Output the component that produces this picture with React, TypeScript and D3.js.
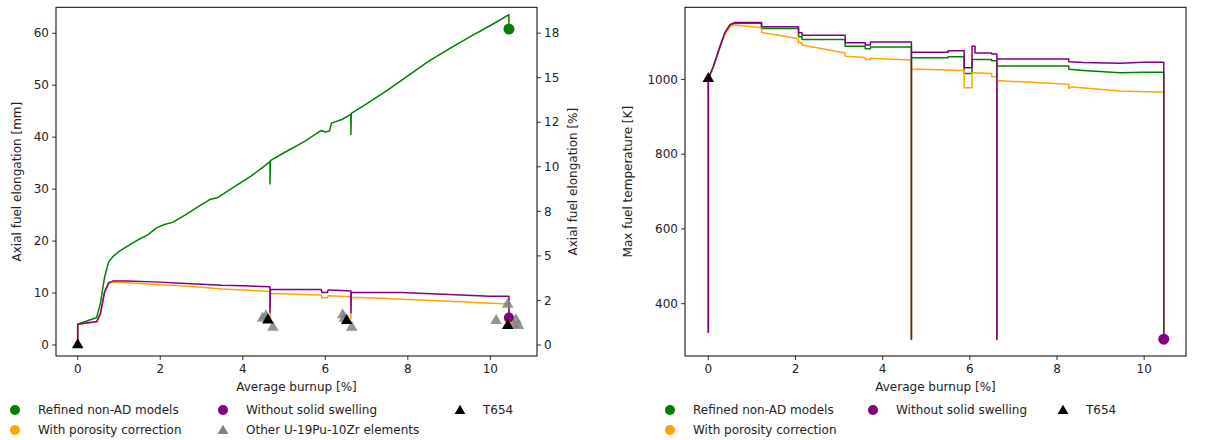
import React from "react";
import * as d3 from "d3";

type P = [number, number];

// ---------- Left panel data (burnup %, elongation mm) ----------
const leftGreen: P[] = [
  [0, 0], [0, 4.0], [0.46, 5.3], [0.55, 8], [0.65, 13], [0.75, 16], [0.85, 17], [1.0, 18],
  [1.2, 19], [1.45, 20.2], [1.7, 21.2], [1.9, 22.5], [2.1, 23.2], [2.3, 23.6], [2.6, 25],
  [3.0, 27], [3.2, 28], [3.4, 28.4], [3.8, 30.5], [4.2, 32.5], [4.5, 34.3], [4.66, 35.3],
  [4.66, 31], [4.67, 35.5], [5.0, 37], [5.5, 39.2], [5.9, 41.3], [6.0, 41.0], [6.1, 41.2],
  [6.15, 42.7], [6.4, 43.4], [6.62, 44.4], [6.62, 40.5], [6.63, 44.6], [7.0, 46.4],
  [7.5, 49], [8.0, 51.8], [8.5, 54.6], [9.0, 57], [9.5, 59.3], [10.0, 61.5], [10.45, 63.6],
  [10.45, 60.8],
];
const leftOrange: P[] = [
  [0, 0], [0, 4.0], [0.46, 4.4], [0.55, 6], [0.65, 10], [0.75, 11.7], [0.85, 12.1], [1.2, 12.0],
  [2.0, 11.6], [2.5, 11.4], [3.0, 11.1], [3.5, 10.8], [4.0, 10.6], [4.66, 10.3], [4.66, 5.0],
  [4.67, 9.9], [5.5, 9.7], [5.9, 9.6], [5.92, 9.1], [6.05, 9.1], [6.07, 9.5], [6.62, 9.3],
  [6.62, 5.0], [6.63, 9.2], [7.4, 9.0], [7.85, 8.8], [9.0, 8.4], [10.45, 7.9], [10.45, 5.0],
];
const leftPurple: P[] = [
  [0, 0], [0, 4.0], [0.46, 4.5], [0.55, 6], [0.65, 10.2], [0.75, 12], [0.85, 12.3], [1.2, 12.3],
  [2.0, 12.1], [2.5, 11.9], [3.0, 11.7], [3.5, 11.5], [4.0, 11.4], [4.66, 11.2], [4.66, 6.3],
  [4.67, 10.7], [5.9, 10.7], [5.92, 10.1], [6.05, 10.1], [6.07, 10.6], [6.1, 10.6], [6.62, 10.4],
  [6.62, 6.2], [6.63, 10.1], [7.85, 10.1], [9.0, 9.7], [10.0, 9.4], [10.45, 9.4], [10.45, 5.3],
];
const leftGreenEnd: P = [10.45, 60.8];
const leftOrangeEnd: P = [10.45, 5.0];
const leftPurpleEnd: P = [10.45, 5.3];
const otherElements: P[] = [
  [4.48, 5.1], [4.56, 5.6], [4.73, 3.4], [6.42, 5.8], [6.46, 5.1], [6.64, 3.4],
  [10.14, 4.7], [10.42, 7.8], [10.62, 4.8], [10.68, 3.7], [10.55, 3.9],
];
const t654Left: P[] = [[0, 0], [4.61, 4.8], [6.52, 4.7], [10.42, 3.7]];

// ---------- Right panel data (burnup %, max fuel temperature K) ----------
const rightGreen: P[] = [
  [0, 322], [0, 1002], [0.12, 1036], [0.27, 1089], [0.38, 1124], [0.5, 1146], [0.6, 1150],
  [1.22, 1150], [1.22, 1136], [2.07, 1136], [2.07, 1114], [2.15, 1114], [2.15, 1107],
  [3.14, 1107], [3.14, 1089], [3.6, 1089], [3.6, 1082], [3.72, 1082], [3.72, 1087],
  [4.66, 1087], [4.66, 305], [4.66, 1058], [5.5, 1058], [5.5, 1061], [5.87, 1061],
  [5.87, 1016], [6.05, 1016], [6.05, 1053], [6.5, 1053], [6.5, 1050], [6.62, 1050],
  [6.62, 305], [6.62, 1036], [8.27, 1036], [8.27, 1027], [8.6, 1024], [9.45, 1018],
  [10.0, 1019], [10.45, 1019], [10.45, 305],
];
const rightOrange: P[] = [
  [0, 322], [0, 1002], [0.12, 1035], [0.27, 1086], [0.38, 1120], [0.5, 1140], [0.6, 1146],
  [1.22, 1138], [1.22, 1126], [2.07, 1109], [2.07, 1098], [2.15, 1098], [2.15, 1092],
  [3.14, 1071], [3.14, 1062], [3.6, 1059], [3.6, 1053], [3.72, 1053], [3.72, 1057],
  [4.66, 1052], [4.66, 305], [4.66, 1028], [5.87, 1024], [5.87, 978], [6.05, 978],
  [6.05, 1018], [6.5, 1016], [6.5, 1007], [6.62, 1007], [6.62, 305], [6.62, 997],
  [8.27, 987], [8.27, 976], [8.35, 980], [9.45, 969], [10.45, 966], [10.45, 305],
];
const rightPurple: P[] = [
  [0, 322], [0, 1002], [0.12, 1036], [0.27, 1089], [0.38, 1125], [0.5, 1147], [0.6, 1152],
  [1.22, 1152], [1.22, 1141], [2.07, 1141], [2.07, 1125], [2.15, 1125], [2.15, 1118],
  [3.14, 1118], [3.14, 1098], [3.6, 1098], [3.6, 1092], [3.72, 1092], [3.72, 1100],
  [4.66, 1100], [4.66, 305], [4.66, 1073], [5.5, 1073], [5.5, 1077], [5.87, 1077],
  [5.87, 1031], [6.05, 1031], [6.05, 1089], [6.12, 1089], [6.12, 1071], [6.5, 1071],
  [6.5, 1068], [6.62, 1068], [6.62, 305], [6.62, 1055], [8.27, 1055], [8.27, 1047],
  [8.6, 1045], [9.45, 1043], [9.98, 1046], [10.45, 1046], [10.45, 305],
];
const rightPurpleEnd: P = [10.45, 305];
const t654Right: P[] = [[0, 1002]];

// ---------- Ticks ----------
const xTicks = [0, 2, 4, 6, 8, 10];
const leftYTicks = [0, 10, 20, 30, 40, 50, 60];
const pctTicks = [0, 2.5, 5, 7.5, 10, 12.5, 15, 17.5];
const pctTickLabels = ["0", "2", "5", "8", "10", "12", "15", "18"];
const rightYTicks = [400, 600, 800, 1000];

const GREEN = "#008000";
const ORANGE = "#FFA500";
const PURPLE = "#800080";
const GRAY = "#808080";
const FONT = "'DejaVu Sans', sans-serif";
const FS = 12;

const TOP = 7.3;
const BOTTOM = 356;
const MM_PER_PCT = 3.43;

const lx = d3.scaleLinear().domain([-0.526, 11.13]).range([56, 537]);
const ly = d3.scaleLinear().domain([-2.12, 65.0]).range([BOTTOM, TOP]);
const ly2 = d3.scaleLinear().domain([-2.12 / MM_PER_PCT, 65.0 / MM_PER_PCT]).range([BOTTOM, TOP]);
const rx = d3.scaleLinear().domain([-0.535, 10.96]).range([685, 1186]);
const ry = d3.scaleLinear().domain([260, 1193]).range([BOTTOM, TOP]);

const tri = d3.symbol().type(d3.symbolTriangle).size(58)()!;
const triLegend = d3.symbol().type(d3.symbolTriangle).size(50)()!;

function LinePath({ data, x, y, color }: { data: P[]; x: any; y: any; color: string }) {
  const gen = d3.line<P>().x((d) => x(d[0])).y((d) => y(d[1]));
  return <path d={gen(data) || ""} fill="none" stroke={color} strokeWidth={1.5} strokeLinejoin="round" />;
}

function XAxis({ x }: { x: any }) {
  return (
    <g>
      {xTicks.map((t) => (
        <g key={t} transform={`translate(${x(t)},${BOTTOM})`}>
          <line y2={4} stroke="#000" strokeWidth={0.8} />
          <text y={8} dy="0.71em" textAnchor="middle" fontSize={FS} fontFamily={FONT} fill="#222">{t}</text>
        </g>
      ))}
      <text x={(x.range()[0] + x.range()[1]) / 2} y={391} textAnchor="middle" fontSize={FS} fontFamily={FONT} fill="#222">
        Average burnup [%]
      </text>
    </g>
  );
}

function YAxisLeft({ y, ticks, labels, x0 }: { y: any; ticks: number[]; labels?: string[]; x0: number }) {
  return (
    <g>
      {ticks.map((t, i) => (
        <g key={t} transform={`translate(${x0},${y(t)})`}>
          <line x2={-4} stroke="#000" strokeWidth={0.8} />
          <text x={-7} dy="0.35em" textAnchor="end" fontSize={FS} fontFamily={FONT} fill="#222">
            {labels ? labels[i] : t}
          </text>
        </g>
      ))}
    </g>
  );
}

function Legend({ x0, x1, x2, rows }: any) {
  return null;
}

function Circle({ p, x, y, color, r = 5.5 }: { p: P; x: any; y: any; color: string; r?: number }) {
  return <circle cx={x(p[0])} cy={y(p[1])} r={r} fill={color} />;
}

function Tri({ p, x, y, color, opacity = 1 }: { p: P; x: any; y: any; color: string; opacity?: number }) {
  return <path d={tri} transform={`translate(${x(p[0])},${y(p[1])})`} fill={color} fillOpacity={opacity} />;
}

function LegendItem({ x, y, kind, color, label }: { x: number; y: number; kind: string; color: string; label: string }) {
  return (
    <g>
      {kind === "circle" ? (
        <circle cx={x} cy={y} r={5} fill={color} />
      ) : (
        <path d={triLegend} transform={`translate(${x},${y + 1})`} fill={color} />
      )}
      <text x={x + 23} y={y} dy="0.35em" fontSize={FS} fontFamily={FONT} fill="#222">{label}</text>
    </g>
  );
}

export default function App() {
  const midY = (TOP + BOTTOM) / 2;
  return (
    <div>
      <style>{"body{margin:0;background:#fff}"}</style>
      <svg width={1208} height={440} style={{ display: "block" }}>
        <rect width={1208} height={440} fill="#fff" />

        {/* ---------------- Left panel ---------------- */}
        <g>
          <LinePath data={leftGreen} x={lx} y={ly} color={GREEN} />
          <LinePath data={leftOrange} x={lx} y={ly} color={ORANGE} />
          <LinePath data={leftPurple} x={lx} y={ly} color={PURPLE} />
          {otherElements.map((p, i) => (
            <Tri key={"o" + i} p={p} x={lx} y={ly} color={GRAY} opacity={0.85} />
          ))}
          <Circle p={leftOrangeEnd} x={lx} y={ly} color={ORANGE} r={5} />
          <Circle p={leftPurpleEnd} x={lx} y={ly} color={PURPLE} r={5} />
          {t654Left.map((p, i) => (
            <Tri key={"t" + i} p={p} x={lx} y={ly} color="#000" />
          ))}
          <Circle p={leftGreenEnd} x={lx} y={ly} color={GREEN} r={5.5} />
          <rect x={56} y={TOP} width={537 - 56} height={BOTTOM - TOP} fill="none" stroke="#000" strokeWidth={1} />
          <XAxis x={lx} />
          <YAxisLeft y={ly} ticks={leftYTicks} x0={56} />
          {pctTicks.map((t, i) => (
            <g key={"p" + t} transform={`translate(537,${ly2(t)})`}>
              <line x2={4} stroke="#000" strokeWidth={0.8} />
              <text x={7} dy="0.35em" textAnchor="start" fontSize={FS} fontFamily={FONT} fill="#222">
                {pctTickLabels[i]}
              </text>
            </g>
          ))}
          <text transform={`translate(21,${midY}) rotate(-90)`} textAnchor="middle" fontSize={FS} fontFamily={FONT} fill="#222">
            Axial fuel elongation [mm]
          </text>
          <text transform={`translate(577,${midY}) rotate(-90)`} textAnchor="middle" fontSize={FS} fontFamily={FONT} fill="#222">
            Axial fuel elongation [%]
          </text>
        </g>

        {/* ---------------- Right panel ---------------- */}
        <g>
          <LinePath data={rightGreen} x={rx} y={ry} color={GREEN} />
          <LinePath data={rightOrange} x={rx} y={ry} color={ORANGE} />
          <LinePath data={rightPurple} x={rx} y={ry} color={PURPLE} />
          <Circle p={rightPurpleEnd} x={rx} y={ry} color={PURPLE} r={5.5} />
          {t654Right.map((p, i) => (
            <Tri key={"r" + i} p={p} x={rx} y={ry} color="#000" />
          ))}
          <rect x={685} y={TOP} width={1186 - 685} height={BOTTOM - TOP} fill="none" stroke="#000" strokeWidth={1} />
          <XAxis x={rx} />
          <YAxisLeft y={ry} ticks={rightYTicks} x0={685} />
          <text transform={`translate(632,${midY}) rotate(-90)`} textAnchor="middle" fontSize={FS} fontFamily={FONT} fill="#222">
            Max fuel temperature [K]
          </text>
        </g>

        {/* ---------------- Legends ---------------- */}
        <LegendItem x={15} y={410} kind="circle" color={GREEN} label="Refined non-AD models" />
        <LegendItem x={15} y={430} kind="circle" color={ORANGE} label="With porosity correction" />
        <LegendItem x={223} y={410} kind="circle" color={PURPLE} label="Without solid swelling" />
        <LegendItem x={223} y={430} kind="tri" color={GRAY} label="Other U-19Pu-10Zr elements" />
        <LegendItem x={460} y={410} kind="tri" color="#000" label="T654" />

        <LegendItem x={670} y={410} kind="circle" color={GREEN} label="Refined non-AD models" />
        <LegendItem x={670} y={430} kind="circle" color={ORANGE} label="With porosity correction" />
        <LegendItem x={873} y={410} kind="circle" color={PURPLE} label="Without solid swelling" />
        <LegendItem x={1063} y={410} kind="tri" color="#000" label="T654" />
      </svg>
    </div>
  );
}
